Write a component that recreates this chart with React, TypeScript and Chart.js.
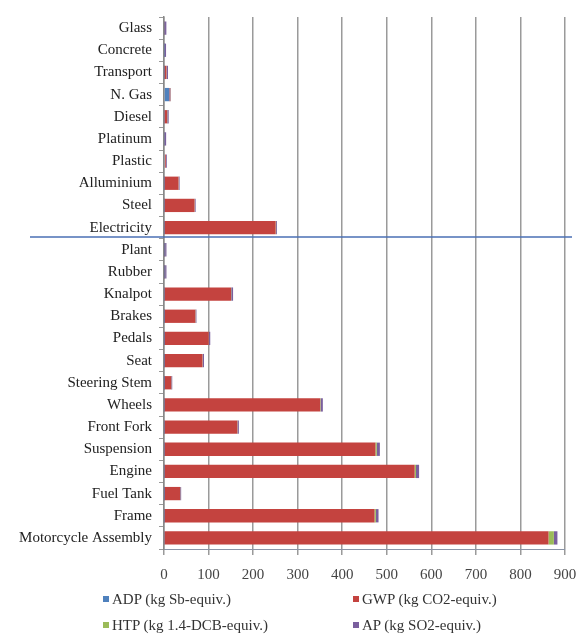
import React, { useEffect, useRef } from "react";
import { Chart, registerables } from "chart.js";

Chart.register(...registerables);

const categories = [
  "Glass", "Concrete", "Transport", "N. Gas", "Diesel", "Platinum", "Plastic",
  "Alluminium", "Steel", "Electricity", "Plant", "Rubber", "Knalpot", "Brakes",
  "Pedals", "Seat", "Steering Stem", "Wheels", "Front Fork", "Suspension",
  "Engine", "Fuel Tank", "Frame", "Motorcycle Assembly",
];

const adpValues = [0.5, 0.3, 0.5, 12, 1, 0.5, 2, 0.5, 0.5, 0.5, 0.2, 0.2, 0.5, 0.3, 0.3, 0.3, 0.2, 0.5, 0.5, 0.5, 0.5, 0.2, 0.5, 1];
const gwpValues = [1.5, 1, 5, 2, 6, 1, 2, 32, 68, 250, 2, 2, 150, 70, 100, 86, 16, 350, 164, 474, 562, 36, 472, 862];
const htpValues = [0.3, 0.3, 0.5, 0.3, 0.5, 0.3, 0.3, 0.5, 0.5, 1, 0.3, 0.3, 0.5, 0.5, 0.5, 0.5, 0.3, 1, 0.5, 3, 3, 0.3, 3, 12];
const apValues = [3, 3, 3, 1, 3, 3, 2, 2, 2, 2, 3, 3, 4, 2, 3, 3, 2, 5, 3, 7, 7, 2, 6, 8];

const xTicks = [0, 100, 200, 300, 400, 500, 600, 700, 800, 900];

const seriesNames = [
  "ADP (kg Sb-equiv.)",
  "GWP (kg CO2-equiv.)",
  "HTP (kg 1.4-DCB-equiv.)",
  "AP (kg SO2-equiv.)",
];
const seriesColors = ["#4F81BD", "#C4433F", "#9BBB59", "#7A5F9E"];

const FONT = "'Liberation Serif', 'Times New Roman', serif";

const dividerPlugin = {
  id: "divider",
  afterDraw(chart: any) {
    const y = chart.scales.y;
    const p9 = y.getPixelForValue(9);
    const p10 = y.getPixelForValue(10);
    const py = p9 + (p10 - p9) * 0.42;
    const ctx = chart.ctx;
    ctx.save();
    ctx.strokeStyle = "#4A6FB5";
    ctx.lineWidth = 1.5;
    ctx.beginPath();
    ctx.moveTo(30, py);
    ctx.lineTo(572, py);
    ctx.stroke();
    ctx.restore();
  },
};

export default function App() {
  const ref = useRef<HTMLCanvasElement | null>(null);

  useEffect(() => {
    if (!ref.current) return;
    const data = [adpValues, gwpValues, htpValues, apValues];
    const chart = new Chart(ref.current, {
      type: "bar",
      data: {
        labels: categories,
        datasets: data.map((vals, i) => ({
          label: seriesNames[i],
          data: vals,
          backgroundColor: seriesColors[i],
          borderWidth: 0,
          barPercentage: 0.6,
          categoryPercentage: 1,
        })),
      },
      options: {
        indexAxis: "y",
        responsive: false,
        animation: false,
        layout: { padding: { top: 17, bottom: 44, left: 0, right: 0 } },
        plugins: {
          legend: { display: false },
          tooltip: { enabled: false },
        },
        scales: {
          x: {
            stacked: true,
            min: 0,
            max: 900,
            afterBuildTicks: (s: any) => {
              s.ticks = xTicks.map((v) => ({ value: v }));
            },
            afterFit: (s: any) => {
              s.paddingRight = 13;
              s.paddingLeft = 0;
            },
            ticks: {
              font: { family: FONT, size: 15 },
              color: "#444",
              padding: 11,
            },
            grid: {
              color: "#9a9a9a",
              lineWidth: 1.5,
              tickLength: 6,
            },
            border: { color: "#8a94a6", width: 1 },
          },
          y: {
            stacked: true,
            afterFit: (s: any) => {
              s.width = 164;
            },
            ticks: {
              font: { family: FONT, size: 15 },
              color: "#222",
              padding: 7,
              autoSkip: false,
            },
            grid: {
              drawOnChartArea: false,
              tickLength: 5,
              color: "#999",
            },
            border: { color: "#888", width: 1.5 },
          },
        },
      },
      plugins: [dividerPlugin],
    } as any);
    return () => chart.destroy();
  }, []);

  const legendPos = [
    { left: 103, top: 599 },
    { left: 353, top: 599 },
    { left: 103, top: 625 },
    { left: 353, top: 625 },
  ];

  return (
    <div style={{ position: "absolute", left: 0, top: 0, width: 578, height: 639, background: "#fff" }}>
      <canvas ref={ref} width={578} height={639} style={{ display: "block" }} />
      {seriesNames.map((n, i) => (
        <div
          key={n}
          style={{
            position: "absolute",
            left: legendPos[i].left,
            top: legendPos[i].top - 9,
            height: 18,
            display: "flex",
            alignItems: "center",
            fontFamily: FONT,
            fontSize: 15,
            color: "#333",
            whiteSpace: "nowrap",
          }}
        >
          <span style={{ display: "inline-block", width: 6, height: 6, background: seriesColors[i], marginRight: 3 }} />
          <span>{n}</span>
        </div>
      ))}
    </div>
  );
}
